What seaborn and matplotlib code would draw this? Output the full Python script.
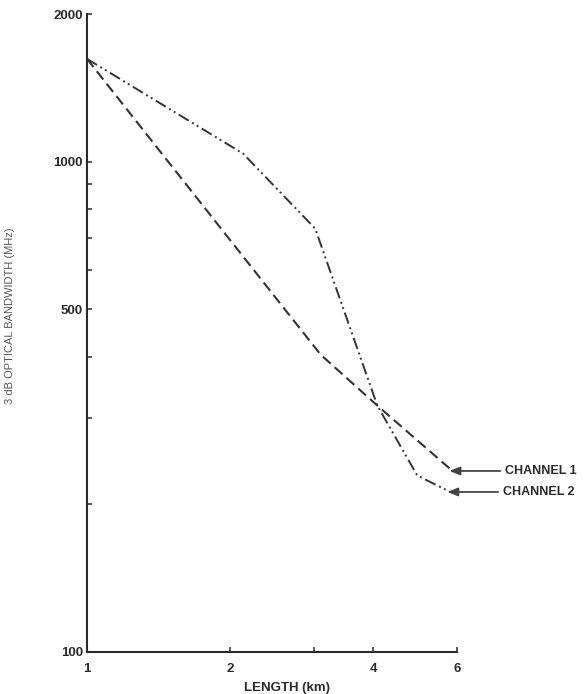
import matplotlib
matplotlib.use("Agg")
import matplotlib.pyplot as plt
import seaborn as sns
import pandas as pd
from matplotlib.ticker import FixedLocator, NullFormatter

# ---- data ----
ch1_length = [1.0, 3.1, 4.08, 5.87]
ch1_bw = [1620, 404, 318, 234]
ch2_length = [1.0, 2.13, 3.02, 4.08, 4.95, 5.81]
ch2_bw = [1620, 1038, 730, 318, 229, 212]
x_ticks = [1, 2, 4, 6]
x_minor = [3]
y_ticks = [100, 500, 1000, 2000]
y_minor = [200, 300, 400, 600, 700, 800, 900]
series_names = ["CHANNEL 1", "CHANNEL 2"]

sns.set_style("ticks")
fam = ["Liberation Sans", "DejaVu Sans"]
plt.rcParams["font.family"] = fam

ink = "#2a2a2a"
fig = plt.figure(figsize=(5.84, 6.94), dpi=100)
ax = fig.add_axes([87 / 584, 1 - 652 / 694, (457 - 87) / 584, (652 - 14) / 694])

df1 = pd.DataFrame({"x": ch1_length, "y": ch1_bw})
df2 = pd.DataFrame({"x": ch2_length, "y": ch2_bw})
sns.lineplot(data=df1, x="x", y="y", ax=ax, sort=False, estimator=None,
             color="#333333", lw=1.5, linestyle=(0, (5, 2.6)))
sns.lineplot(data=df2, x="x", y="y", ax=ax, sort=False, estimator=None,
             color="#333333", lw=1.4, linestyle=(0, (6, 2.0, 1.0, 1.8, 1.0, 2.0)))

ax.set_xscale("log")
ax.set_yscale("log")
ax.set_xlim(1, 6)
ax.set_ylim(100, 2000)

ax.xaxis.set_major_locator(FixedLocator(x_ticks))
ax.xaxis.set_minor_locator(FixedLocator(x_minor))
ax.set_xticklabels([str(v) for v in x_ticks])
ax.xaxis.set_minor_formatter(NullFormatter())
ax.yaxis.set_major_locator(FixedLocator(y_ticks))
ax.yaxis.set_minor_locator(FixedLocator(y_minor))
ax.set_yticklabels([str(v) for v in y_ticks])
ax.yaxis.set_minor_formatter(NullFormatter())

ax.tick_params(axis="both", which="both", direction="in", length=3.5, width=1.1,
               color=ink, labelcolor=ink, labelsize=9.5)
ax.tick_params(axis="x", which="major", pad=8)
ax.tick_params(axis="y", which="major", pad=3)
for lab in ax.get_xticklabels() + ax.get_yticklabels():
    lab.set_fontweight("bold")
    lab.set_family(fam)

sns.despine(ax=ax)
for s in ("left", "bottom"):
    ax.spines[s].set_linewidth(1.5)
    ax.spines[s].set_color(ink)

ax.set_xlabel("")
ax.set_ylabel("")
fig.text(287 / 584, 1 - 688 / 694, "LENGTH (km)", ha="center", va="center",
         fontsize=9.5, fontweight="bold", color=ink, family=fam)
fig.text(10 / 584, 1 - 316 / 694, "3 dB OPTICAL BANDWIDTH (MHz)", rotation=90,
         ha="center", va="center", fontsize=8, color="#555555", family=fam)

# arrows pointing to the curve ends
ends = [(ch1_length[-1], ch1_bw[-1]), (ch2_length[-1], ch2_bw[-1])]
for name, (xe, ye) in zip(series_names, ends):
    ax.annotate(name, xy=(xe * 0.985, ye), xytext=(40, 0), textcoords="offset points",
                ha="left", va="center", fontsize=9, fontweight="bold", color=ink,
                family=fam, annotation_clip=False,
                arrowprops=dict(arrowstyle="-|>,head_length=0.7,head_width=0.28",
                                color="#444444", lw=1.3, shrinkA=1, shrinkB=0))

fig.savefig("out.png", dpi=100)
